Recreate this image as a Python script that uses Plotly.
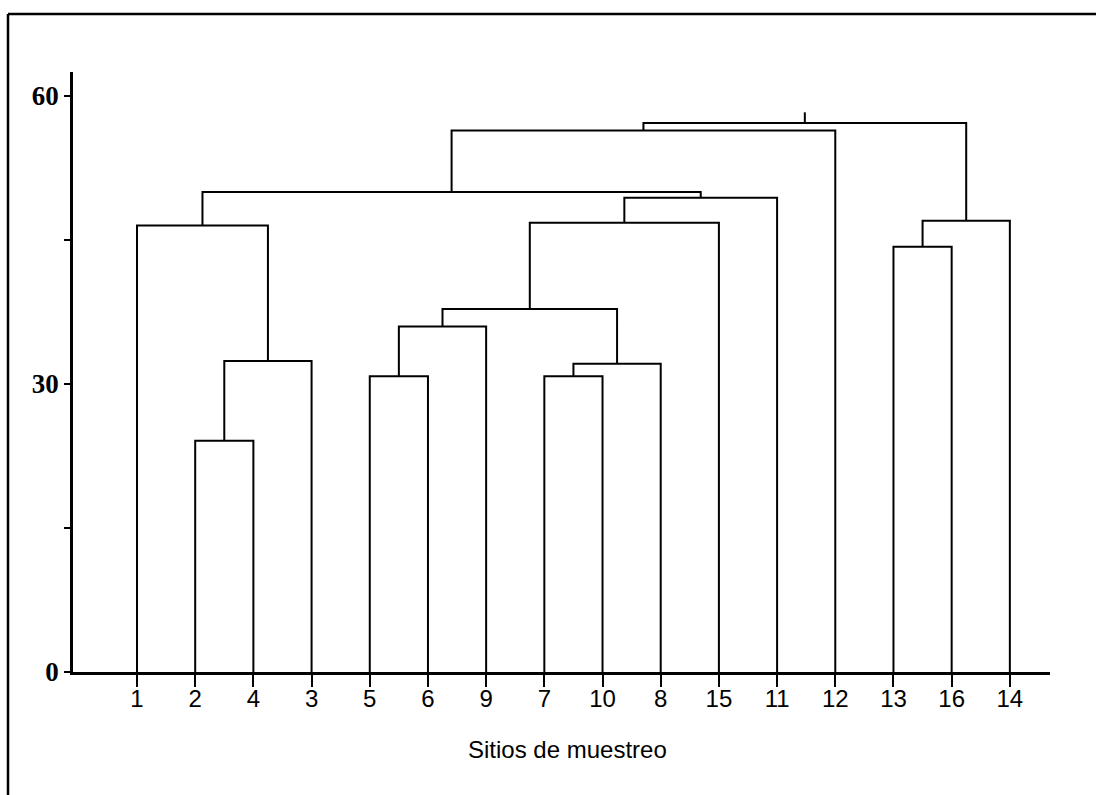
import plotly.graph_objects as go

# Leaf order along the x axis (sampling sites)
leaf_labels = ["1", "2", "4", "3", "5", "6", "9", "7", "10", "8", "15", "11", "12", "13", "16", "14"]

# Agglomeration steps: left member, right member, fusion height
merge_left = ["2", "c0", "1", "5", "c3", "7", "c5", "c4", "c7", "c8", "c2", "c10", "13", "c12", "c11"]
merge_right = ["4", "3", "c1", "6", "9", "10", "8", "c6", "15", "11", "c9", "12", "16", "14", "c13"]
merge_height = [24.1, 32.4, 46.5, 30.8, 36.0, 30.8, 32.1, 37.8, 46.8, 49.4, 50.0, 56.4, 44.3, 47.0, 57.2]
root_stub_top = 58.3

y_tick_vals = [0, 15, 30, 45, 60]
y_tick_text = ["0", "", "30", "", "60"]
x_title = "Sitios de muestreo"

# Build the dendrogram links from the merge table
pos = {lab: i + 1 for i, lab in enumerate(leaf_labels)}
hgt = {lab: 0.0 for lab in leaf_labels}
xs, ys = [], []
for k, (a, b, h) in enumerate(zip(merge_left, merge_right, merge_height)):
    xa, xb = pos[a], pos[b]
    xs += [xa, xa, xb, xb, None]
    ys += [hgt[a], h, h, hgt[b], None]
    name = "c%d" % k
    pos[name] = (xa + xb) / 2
    hgt[name] = h
root = "c%d" % (len(merge_height) - 1)
xs += [pos[root], pos[root], None]
ys += [hgt[root], root_stub_top, None]

fig = go.Figure()
fig.add_trace(go.Scatter(x=xs, y=ys, mode="lines",
                         line=dict(color="black", width=2),
                         hoverinfo="skip", showlegend=False))

W, H = 1096, 795
L, R, T, B = 73, 46, 72, 123
pw, ph = W - L - R, H - T - B

def px_x(p):
    return (p - L) / pw

def px_y(p):
    return (H - B - p) / ph

fig.update_layout(
    width=W, height=H,
    margin=dict(l=L, r=R, t=T, b=B, pad=0),
    plot_bgcolor="white", paper_bgcolor="white",
    xaxis=dict(range=[-0.1, 16.69], tickvals=list(range(1, 17)), ticktext=leaf_labels,
               showgrid=False, zeroline=False, showline=True, linecolor="black", linewidth=2.5,
               ticks="outside", ticklen=12, tickwidth=2, tickcolor="black",
               ticklabelstandoff=-9,
               tickfont=dict(family="Liberation Sans", size=24, color="black")),
    yaxis=dict(range=[0, 62.5], tickvals=y_tick_vals, ticktext=y_tick_text,
               showgrid=False, zeroline=False, showline=True, linecolor="black", linewidth=2.5,
               ticks="outside", ticklen=6, tickwidth=2, tickcolor="black",
               tickfont=dict(family="Liberation Serif", size=27, color="black", weight="bold")),
    annotations=[dict(text=x_title, xref="paper", yref="paper",
                      x=px_x(567), y=px_y(750), xanchor="center", yanchor="middle",
                      showarrow=False, font=dict(family="Liberation Sans", size=24, color="black"))],
    shapes=[
        dict(type="line", xref="paper", yref="paper", x0=px_x(8), x1=px_x(8), y0=px_y(14), y1=px_y(810),
             line=dict(color="black", width=2.5)),
        dict(type="line", xref="paper", yref="paper", x0=px_x(8), x1=px_x(1110), y0=px_y(14), y1=px_y(14),
             line=dict(color="black", width=2.5)),
    ],
)

fig.write_html("out.html")
